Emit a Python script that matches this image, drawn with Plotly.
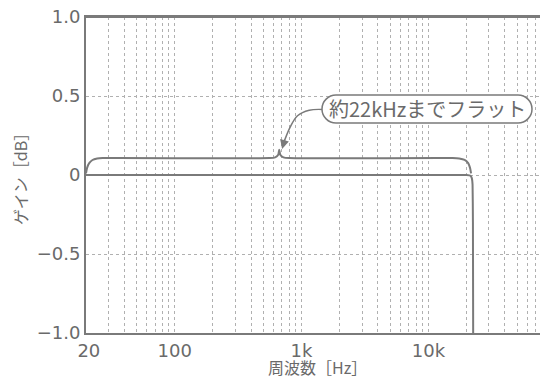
import math
import plotly.graph_objects as go

# ---- data ----
freq_hz = [20, 100, 1000, 10000, 20000, 21500, 22000, 22300, 22450, 22550]
gain_db = [0.0, 0.0, 0.0, 0.0, 0.0, -0.005, -0.02, -0.06, -0.3, -1.0]

brace_f = [20, 20.4, 21.2, 22.5, 24.5, 27, 560, 620, 655, 667, 680, 720, 800, 15500, 17500, 19300, 20600, 21300, 21700]
brace_g = [0.01, 0.045, 0.075, 0.095, 0.104, 0.107, 0.107, 0.112, 0.128, 0.16, 0.128, 0.112, 0.107, 0.107, 0.104, 0.095, 0.075, 0.045, 0.01]

arrow_f = [1455, 1150, 930, 810, 740, 712]
arrow_g = [0.415, 0.41, 0.375, 0.3, 0.225, 0.19]
arrow_tip = (703, 0.165)

x_tickvals = [20, 100, 1000, 10000]
x_ticktext = ["\u00a020", "100", "1k", "10k"]
y_tickvals = [-1.0, -0.5, 0.0, 0.5, 1.0]
y_ticktext = ["\u22121.0", "\u22120.5", "0", "0.5", "1.0"]

minor_vals = [m * 10 ** d for d in range(1, 5) for m in range(2, 10) if 20 <= m * 10 ** d <= 90000]

label_text = "約22kHzまでフラット"
x_title = "周波数［Hz］"
y_title = "ゲイン［dB］"

FONT = "Noto Sans CJK JP"
NUMFONT = "DejaVu Sans"
TXT = "#6a6a6a"
LINE = "#7a7a7a"
GRID = "#b0b0b0"

fig = go.Figure()
fig.add_trace(go.Scatter(x=freq_hz, y=gain_db, mode="lines",
                         line=dict(color=LINE, width=2, shape="spline", smoothing=0.3),
                         hoverinfo="skip", showlegend=False))
fig.add_trace(go.Scatter(x=brace_f, y=brace_g, mode="lines",
                         line=dict(color=LINE, width=2, shape="spline", smoothing=0.6),
                         hoverinfo="skip", showlegend=False))
fig.add_trace(go.Scatter(x=arrow_f, y=arrow_g, mode="lines",
                         line=dict(color=LINE, width=1.5, shape="spline"),
                         hoverinfo="skip", showlegend=False))

# arrowhead
fig.add_annotation(x=math.log10(arrow_tip[0]), y=arrow_tip[1], xref="x", yref="y",
                   ax=3, ay=-11, text="", showarrow=True, arrowhead=2,
                   arrowsize=1.2, arrowwidth=1.5, arrowcolor=LINE)

# pill-shaped label box (paper coords)
x0, x1 = 0.5108, 0.9654
yt, yb, ym = 0.7532, 0.6646, 0.7089
rx = 0.0303
path = (f"M {x0+rx},{yt} L {x1-rx},{yt} "
        f"C {x1-rx*0.45},{yt} {x1},{ym+(yt-ym)*0.55} {x1},{ym} "
        f"C {x1},{ym-(yt-ym)*0.55} {x1-rx*0.45},{yb} {x1-rx},{yb} "
        f"L {x0+rx},{yb} "
        f"C {x0+rx*0.45},{yb} {x0},{ym-(yt-ym)*0.55} {x0},{ym} "
        f"C {x0},{ym+(yt-ym)*0.55} {x0+rx*0.45},{yt} {x0+rx},{yt} Z")
fig.add_shape(type="path", path=path, xref="paper", yref="paper",
              line=dict(color=LINE, width=1.5), fillcolor="white", layer="above")
# top frame line
fig.add_shape(type="line", x0=0, x1=1, y0=1, y1=1, xref="paper", yref="paper",
              line=dict(color=LINE, width=2), layer="above")
fig.add_annotation(x=(x0 + x1) / 2, y=ym, xref="paper", yref="paper",
                   xanchor="center", yanchor="middle",
                   text=label_text, showarrow=False,
                   font=dict(family=FONT, size=20, color=TXT))

# axis titles as annotations
fig.add_annotation(x=0.5, y=-0.1076, xref="paper", yref="paper",
                   xanchor="center", yanchor="middle", text=x_title, showarrow=False,
                   font=dict(family=FONT, size=16, color=TXT))
fig.add_annotation(x=-0.143, y=0.5, xref="paper", yref="paper", textangle=-90,
                   xanchor="center", yanchor="middle", text=y_title, showarrow=False,
                   font=dict(family=FONT, size=16, color=TXT))

# page body has an 8px default margin, so the figure is 540x370
fig.update_layout(
    width=540, height=370,
    margin=dict(l=78, r=0, t=9, b=45, autoexpand=False),
    paper_bgcolor="white", plot_bgcolor="white",
    font=dict(family=FONT, color=TXT, size=17),
    showlegend=False,
    xaxis=dict(type="log", range=[math.log10(20), 4.943], automargin=False,
               tickvals=x_tickvals, ticktext=x_ticktext, ticks="",
               ticklabeloverflow="allow",
               showgrid=True, gridcolor=GRID, griddash="dot", gridwidth=1,
               minor=dict(tickvals=minor_vals, showgrid=True, gridcolor=GRID,
                          griddash="dot", gridwidth=1, ticks=""),
               showline=True, linecolor=LINE, linewidth=2, mirror=True,
               zeroline=False,
               tickfont=dict(family=NUMFONT, size=18, color=TXT)),
    yaxis=dict(range=[-1, 1], tickvals=y_tickvals, ticktext=y_ticktext, ticks="",
               automargin=False, ticklabeloverflow="allow",
               showgrid=True, gridcolor=GRID, griddash="dot", gridwidth=1,
               showline=True, linecolor=LINE, linewidth=2, zeroline=False,
               tickfont=dict(family=NUMFONT, size=18, color=TXT)),
)

fig.write_html("out.html")
